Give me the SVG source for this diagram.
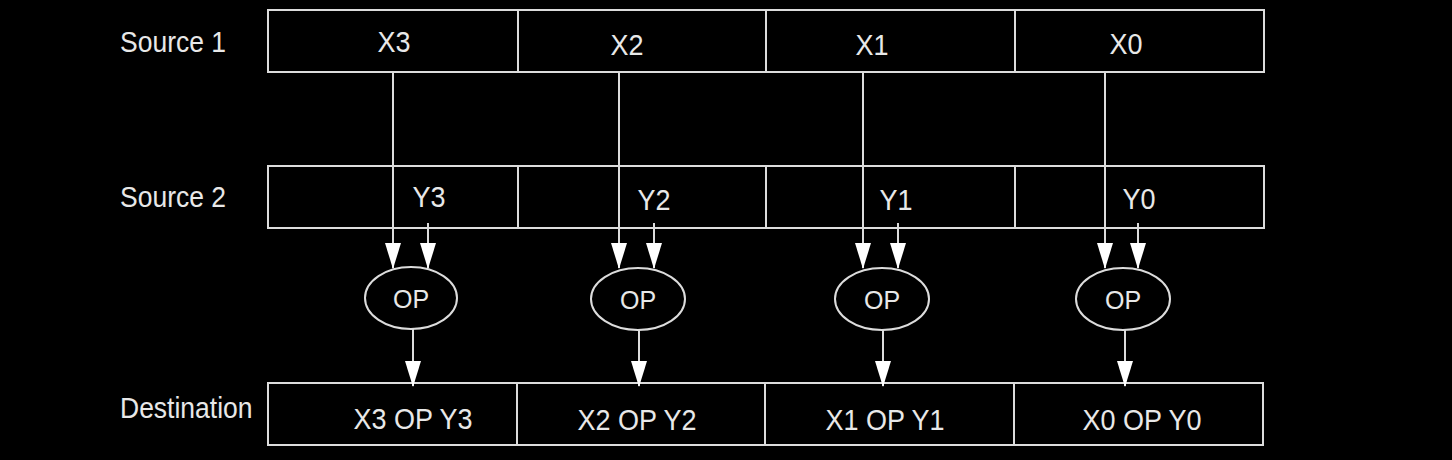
<svg xmlns="http://www.w3.org/2000/svg" width="1452" height="460" viewBox="0 0 1452 460">
<style>
.cell{fill:#000;stroke:#dcdcdc;stroke-width:2}
.op{fill:#000;stroke:#dcdcdc;stroke-width:2}
.t{font-family:"Liberation Sans",Arial,sans-serif;font-size:27px;fill:#e8e8e8;text-anchor:middle}
.lbl{font-family:"Liberation Sans",Arial,sans-serif;font-size:26.5px;fill:#e8e8e8}
.opt{font-family:"Liberation Sans",Arial,sans-serif;font-size:25px;fill:#e8e8e8;text-anchor:middle}
.c{stroke:#dcdcdc;stroke-width:2;fill:none;marker-end:url(#ah)}
</style>
<defs>
<marker id="ah" viewBox="0 0 26 16" refX="25" refY="8" markerWidth="26" markerHeight="16" markerUnits="userSpaceOnUse" orient="auto">
<path d="M0,0 L26,8 L0,16 Z" fill="#ffffff"/>
</marker>
</defs>
<rect x="0" y="0" width="1452" height="460" fill="#000"/>

<g id="label-source1"><text class="lbl" transform="translate(120,52) scale(1,1.1)">Source 1</text></g>
<g id="label-source2"><text class="lbl" transform="translate(120,207) scale(1,1.1)">Source 2</text></g>
<g id="label-destination"><text class="lbl" transform="translate(120,418) scale(1,1.1)">Destination</text></g>

<g id="src1-x3"><rect class="cell" x="268" y="10" width="250" height="62"/><text class="t" transform="translate(394,52) scale(1,1.12)">X3</text></g>
<g id="src1-x2"><rect class="cell" x="518" y="10" width="248" height="62"/><text class="t" transform="translate(627,55) scale(1,1.12)">X2</text></g>
<g id="src1-x1"><rect class="cell" x="766" y="10" width="249" height="62"/><text class="t" transform="translate(872,55) scale(1,1.12)">X1</text></g>
<g id="src1-x0"><rect class="cell" x="1015" y="10" width="249" height="62"/><text class="t" transform="translate(1126,54) scale(1,1.12)">X0</text></g>

<g id="src2-y3"><rect class="cell" x="268" y="166" width="250" height="62"/><text class="t" transform="translate(429,207) scale(1,1.12)">Y3</text></g>
<g id="src2-y2"><rect class="cell" x="518" y="166" width="248" height="62"/><text class="t" transform="translate(654,210) scale(1,1.12)">Y2</text></g>
<g id="src2-y1"><rect class="cell" x="766" y="166" width="249" height="62"/><text class="t" transform="translate(896,210) scale(1,1.12)">Y1</text></g>
<g id="src2-y0"><rect class="cell" x="1015" y="166" width="249" height="62"/><text class="t" transform="translate(1139,209) scale(1,1.12)">Y0</text></g>

<g id="dst-3"><rect class="cell" x="268" y="383" width="249" height="62"/><text class="t" transform="translate(413,429) scale(1,1.12)">X3 OP Y3</text></g>
<g id="dst-2"><rect class="cell" x="517" y="383" width="248" height="62"/><text class="t" transform="translate(637,430) scale(1,1.12)">X2 OP Y2</text></g>
<g id="dst-1"><rect class="cell" x="765" y="383" width="249" height="62"/><text class="t" transform="translate(885,430) scale(1,1.12)">X1 OP Y1</text></g>
<g id="dst-0"><rect class="cell" x="1014" y="383" width="249" height="62"/><text class="t" transform="translate(1142,430) scale(1,1.12)">X0 OP Y0</text></g>

<g id="op-3"><ellipse class="op" cx="411" cy="298" rx="46" ry="31"/><text class="opt" x="411" y="308">OP</text></g>
<g id="op-2"><ellipse class="op" cx="638" cy="299" rx="47" ry="31"/><text class="opt" x="638" y="309">OP</text></g>
<g id="op-1"><ellipse class="op" cx="882" cy="299" rx="47" ry="31"/><text class="opt" x="882" y="309">OP</text></g>
<g id="op-0"><ellipse class="op" cx="1123" cy="299" rx="47" ry="31"/><text class="opt" x="1123" y="309">OP</text></g>

<g id="connectors">
<line class="c" x1="393" y1="72" x2="393" y2="268"/>
<line class="c" x1="428" y1="223" x2="428" y2="268"/>
<line class="c" x1="413" y1="329" x2="413" y2="386"/>

<line class="c" x1="619" y1="72" x2="619" y2="268"/>
<line class="c" x1="654" y1="223" x2="654" y2="268"/>
<line class="c" x1="639" y1="330" x2="639" y2="386"/>

<line class="c" x1="863" y1="72" x2="863" y2="268"/>
<line class="c" x1="898" y1="223" x2="898" y2="268"/>
<line class="c" x1="883" y1="330" x2="883" y2="386"/>

<line class="c" x1="1105" y1="72" x2="1105" y2="268"/>
<line class="c" x1="1138" y1="223" x2="1138" y2="268"/>
<line class="c" x1="1125" y1="330" x2="1125" y2="386"/>
</g>
</svg>
